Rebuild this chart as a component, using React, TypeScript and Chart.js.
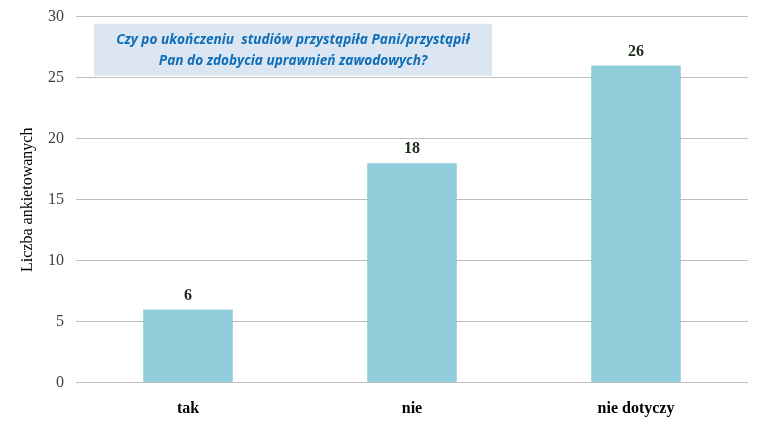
import React, { useEffect, useRef } from "react";
import { Chart, registerables } from "chart.js";

Chart.register(...registerables);

const categories: string[] = ["tak", "nie", "nie dotyczy"];
const values: number[] = [6, 18, 26];
const yTicks: number[] = [0, 5, 10, 15, 20, 25, 30];
const titleLines: string[] = [
  "Czy po ukończeniu  studiów przystąpiła Pani/przystąpił",
  "Pan do zdobycia uprawnień zawodowych?",
];
const yAxisTitle = "Liczba ankietowanych";

const labelsPlugin = {
  id: "valueLabels",
  afterDatasetsDraw(chart: any) {
    const ctx = chart.ctx;
    const meta = chart.getDatasetMeta(0);
    ctx.save();
    ctx.font = "bold 16px 'Liberation Serif', serif";
    ctx.fillStyle = "#1c2a1c";
    ctx.textAlign = "center";
    ctx.textBaseline = "bottom";
    meta.data.forEach((bar: any, i: number) => {
      ctx.fillText(String(values[i]), bar.x, bar.y - 6);
    });
    ctx.restore();
  },
};

const titleBoxPlugin = {
  id: "titleBox",
  afterDatasetsDraw(chart: any) {
    const ctx = chart.ctx;
    const area = chart.chartArea;
    const x0 = area.left + 18;
    const y0 = area.top + 7;
    const w = 398;
    const h = 52;
    ctx.save();
    ctx.fillStyle = "#DCE6F2";
    ctx.fillRect(x0, y0, w, h);
    ctx.font = "italic bold 14px 'Open Sans', sans-serif";
    const m = ctx.measureText(titleLines[0]).width;
    const size = (14 * 354) / m;
    ctx.font = `italic bold ${size}px 'Open Sans', sans-serif`;
    ctx.fillStyle = "#0E6EB8";
    ctx.textAlign = "center";
    ctx.textBaseline = "middle";
    ctx.fillText(titleLines[0], x0 + w / 2, y0 + 16);
    ctx.fillText(titleLines[1], x0 + w / 2, y0 + 37);
    ctx.restore();
  },
};

export default function App() {
  const ref = useRef<HTMLCanvasElement | null>(null);
  useEffect(() => {
    if (!ref.current) return;
    const chart = new Chart(ref.current, {
      type: "bar",
      data: {
        labels: categories,
        datasets: [
          {
            data: values,
            backgroundColor: "#92CDDC",
            borderWidth: 0,
            categoryPercentage: 1,
            barPercentage: 0.4,
          },
        ],
      },
      options: {
        animation: false,
        responsive: false,
        maintainAspectRatio: false,
        layout: { padding: { top: 0, right: 16, left: 0, bottom: 4 } },
        plugins: {
          legend: { display: false },
          tooltip: { enabled: false },
        },
        scales: {
          x: {
            grid: { display: false },
            border: { display: false },
            ticks: {
              color: "#000",
              font: { family: "'Liberation Serif', serif", size: 16, weight: "bold" },
              padding: 8,
            },
          },
          y: {
            min: 0,
            max: 30,
            afterBuildTicks: (s: any) => {
              s.ticks = yTicks.map((v) => ({ value: v }));
            },
            afterFit: (s: any) => {
              s.width = 76;
            },
            grid: { color: "#BFBFBF", drawTicks: false },
            border: { display: false },
            ticks: {
              color: "#404040",
              font: { family: "'Liberation Serif', serif", size: 16, lineHeight: 0.6 },
              padding: 12,
            },
            title: {
              display: true,
              text: yAxisTitle,
              color: "#000",
              font: { family: "'Liberation Serif', serif", size: 16 },
              padding: { top: 18, bottom: 0 },
            },
          },
        },
      },
      plugins: [labelsPlugin, titleBoxPlugin],
    });
    return () => chart.destroy();
  }, []);
  return (
    <div style={{ position: "fixed", left: 0, top: 0, width: 764, height: 430, background: "#fff" }}>
      <canvas ref={ref} width={764} height={430} style={{ width: 764, height: 430 }} />
    </div>
  );
}
